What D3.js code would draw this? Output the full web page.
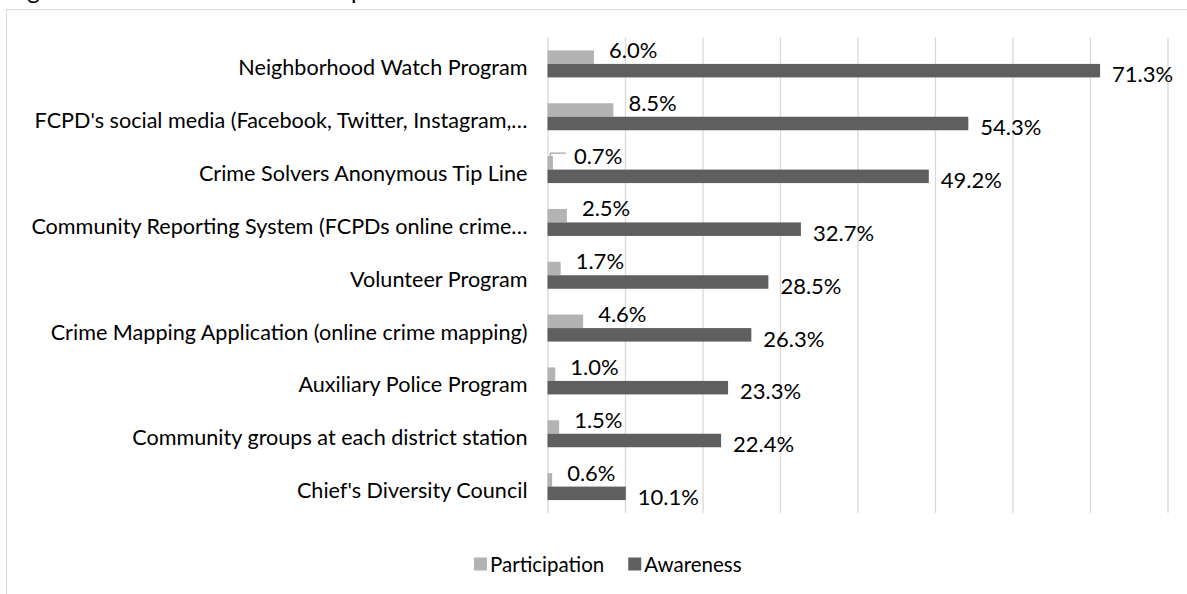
<!DOCTYPE html>
<html>
<head>
<meta charset="utf-8">
<script src="https://cdn.jsdelivr.net/npm/d3@7"></script>
<style>
  body { margin: 0; background: #fff; }
  svg { display: block; font-family: Lato, "Open Sans", sans-serif; }
  .cat-label { font-size: 21.6px; fill: #000; }
  .value-label { font-size: 22px; fill: #000; }
  .legend-label { font-size: 20.5px; fill: #000; }
  .title { font-size: 24px; fill: #000; }
</style>
</head>
<body>
<svg width="1187" height="594"></svg>
<script>
const categories = [
  "Neighborhood Watch Program",
  "FCPD's social media (Facebook, Twitter, Instagram,\u2026",
  "Crime Solvers Anonymous Tip Line",
  "Community Reporting System (FCPDs online crime\u2026",
  "Volunteer Program",
  "Crime Mapping Application (online crime mapping)",
  "Auxiliary Police Program",
  "Community groups at each district station",
  "Chief's Diversity Council"
];
const participation = [6.0, 8.5, 0.7, 2.5, 1.7, 4.6, 1.0, 1.5, 0.6];
const awareness = [71.3, 54.3, 49.2, 32.7, 28.5, 26.3, 23.3, 22.4, 10.1];
const xTicks = [0, 10, 20, 30, 40, 50, 60, 70, 80];
const seriesNames = ["Participation", "Awareness"];
const seriesColors = ["#b3b3b3", "#5f5f5f"];

const svg = d3.select("svg");
const width = +svg.attr("width");
const height = +svg.attr("height");

const margin = { top: 37.5, right: 19.5, bottom: 81, left: 547.5 };
const innerWidth = width - margin.left - margin.right;
const innerHeight = height - margin.top - margin.bottom;

// chart frame (cut off at the right and bottom like the source)
svg.append("rect")
  .attr("x", 6.5)
  .attr("y", 9.5)
  .attr("width", width + 20)
  .attr("height", height + 20)
  .attr("fill", "none")
  .attr("stroke", "#d9d9d9")
  .attr("stroke-width", 1);

// title is mostly cropped off the top, only descenders show
svg.append("text")
  .attr("class", "title")
  .attr("x", 8)
  .attr("y", -1)
  .text("Figure 10: Awareness and Participation");

const xScale = d3.scaleLinear()
  .domain([0, d3.max(xTicks)])
  .range([0, innerWidth]);

const yScale = d3.scaleBand()
  .domain(categories)
  .range([0, innerHeight])
  .padding(0);

const barH = 13.5;
const groupOffset = (yScale.bandwidth() - 2 * barH) / 2;

const g = svg.append("g")
  .attr("transform", `translate(${margin.left}, ${margin.top})`);

// vertical gridlines
const xAxisG = g.append("g")
  .attr("transform", `translate(0, ${innerHeight})`)
  .call(d3.axisBottom(xScale)
    .tickValues(xTicks)
    .tickSize(-innerHeight)
    .tickFormat(""));
xAxisG.select(".domain").remove();
xAxisG.selectAll(".tick line")
  .attr("stroke", "#d9d9d9")
  .attr("stroke-width", 1.3);

// category labels
g.selectAll(".cat-label")
  .data(categories)
  .join("text")
  .attr("class", "cat-label")
  .attr("x", -20)
  .attr("y", (d) => yScale(d) + yScale.bandwidth() / 2 + 4)
  .attr("dy", "0.35em")
  .attr("text-anchor", "end")
  .text((d) => d);

const rows = categories.map((c, i) => ({
  cat: c,
  values: [participation[i], awareness[i]]
}));

const fmt = (v) => d3.format(".1f")(v) + "%";

rows.forEach((row, ri) => {
  row.values.forEach((v, si) => {
    const y0 = yScale(row.cat) + groupOffset + si * barH;
    g.append("rect")
      .attr("x", 0)
      .attr("y", y0)
      .attr("width", xScale(v))
      .attr("height", barH)
      .attr("fill", seriesColors[si]);

    const moved = si === 0 && ri === 2;
    const lx = xScale(v) + (moved ? 21 : (si === 0 ? 15 : 12));
    const ly = y0 + barH / 2 + (si === 0 ? -7 : 4);
    g.append("text")
      .attr("class", "value-label")
      .attr("x", lx)
      .attr("y", ly)
      .attr("dy", "0.35em")
      .text(fmt(v));

    if (moved) {
      // leader line for the dragged label
      g.append("polyline")
        .attr("points", [
          [xScale(v) - 2.5, y0 + 1],
          [xScale(v) - 2.5, y0 - 3],
          [xScale(v) + 13, y0 - 3]
        ].map((p) => p.join(",")).join(" "))
        .attr("fill", "none")
        .attr("stroke", "#a6a6a6")
        .attr("stroke-width", 1.3);
    }
  });
});

// legend
const legend = svg.append("g")
  .attr("transform", `translate(0, ${564})`);
let lxPos = 474;
seriesNames.forEach((name, i) => {
  const item = legend.append("g").attr("transform", `translate(${lxPos}, 0)`);
  item.append("rect")
    .attr("x", 0)
    .attr("y", -6.5)
    .attr("width", 13)
    .attr("height", 13)
    .attr("fill", seriesColors[i]);
  const t = item.append("text")
    .attr("class", "legend-label")
    .attr("x", 16)
    .attr("y", 1)
    .attr("dy", "0.35em")
    .text(name);
  lxPos += 16 + t.node().getComputedTextLength() + 24;
});
</script>
</body>
</html>
